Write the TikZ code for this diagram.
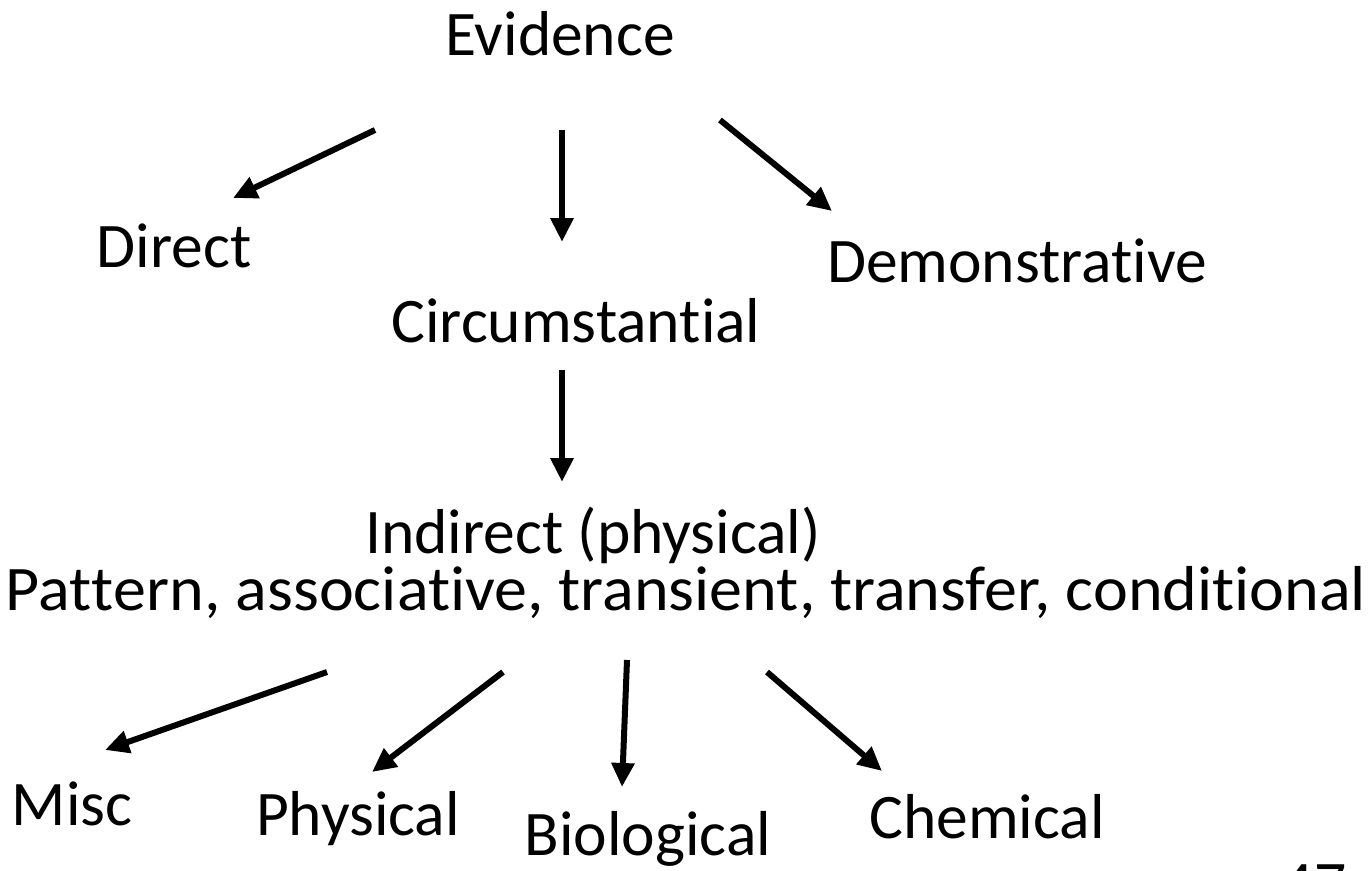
\documentclass[tikz,border=0pt]{standalone}
\usepackage{fontspec}
\setmainfont[RawFeature={-liga,-clig,-dlig,-calt}]{Carlito}
\usetikzlibrary{arrows.meta}
\newcommand{\nl}{\kern0pt }
\tikzset{
  lbl/.style={anchor=base, inner sep=0pt, font=\fontsize{63.5}{70}\selectfont},
  arr/.style={line width=6pt, -{Triangle[length=24pt,width=22pt]}}
}
\begin{document}
\begin{tikzpicture}[x=1pt,y=-1pt]
\useasboundingbox (0,0) rectangle (1370,870);
\clip (0,0) rectangle (1370,870);
\node[lbl] (ev) at (560,55) {Evidence};
\node[lbl] (di) at (174,267) {Direct};
\node[lbl] (ci) at (576,342) {Circumstant\nl ial};
\node[lbl] (de) at (1017,282) {Demonstrat\nl ive};
\node[lbl] (in) at (593,553) {Indirect (physical)};
\node[lbl] (pa) at (686,610) {\scalebox{1.04}[1]{Pat\nl t\nl ern, associat\nl ive, transient, transfer, condit\nl ional}};
\node[lbl] (mi) at (72,825) {Misc};
\node[lbl] (ph) at (358,835) {Physical};
\node[lbl] (bi) at (648,855) {Biological};
\node[lbl] (ch) at (987,838) {Chemical};
\node[lbl] (pg) at (1314,905) {47};
% arrow end points
\coordinate (a1s) at (375,130); \coordinate (a1e) at (233,198);
\coordinate (a2s) at (562,130); \coordinate (a2e) at (562,242);
\coordinate (a3s) at (720,120); \coordinate (a3e) at (832,211);
\coordinate (a4s) at (562,370); \coordinate (a4e) at (562,482);
\coordinate (a5s) at (327,672); \coordinate (a5e) at (105,750);
\coordinate (a6s) at (503,672); \coordinate (a6e) at (372,772);
\coordinate (a7s) at (627,660); \coordinate (a7e) at (622,787);
\coordinate (a8s) at (767,672); \coordinate (a8e) at (882,771);
\draw[arr] (a1s) -- (a1e);
\draw[arr] (a2s) -- (a2e);
\draw[arr] (a3s) -- (a3e);
\draw[arr] (a4s) -- (a4e);
\draw[arr] (a5s) -- (a5e);
\draw[arr] (a6s) -- (a6e);
\draw[arr] (a7s) -- (a7e);
\draw[arr] (a8s) -- (a8e);
\end{tikzpicture}
\end{document}
